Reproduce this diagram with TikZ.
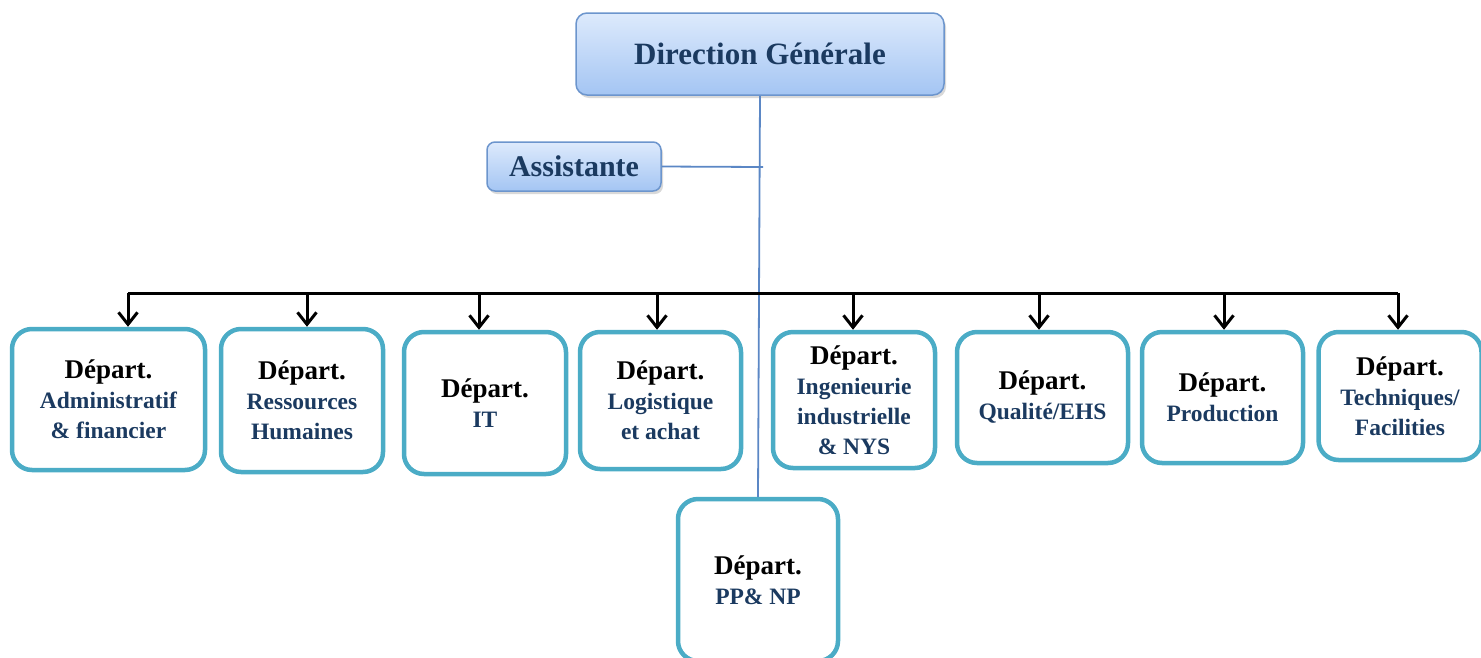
\documentclass[tikz,border=0pt]{standalone}
\usepackage{fontspec}
\setmainfont{Liberation Serif}
\usepackage{tikz}
\usetikzlibrary{arrows.meta, shadows}
\usepackage{xcolor}

\definecolor{boxline}{HTML}{4BACC6}
\definecolor{subnavy}{HTML}{1B3A60}
\definecolor{dgtop}{HTML}{DDEAFC}
\definecolor{dgbot}{HTML}{A4C5F3}
\definecolor{dgline}{HTML}{6C95CD}
\definecolor{linkblue}{HTML}{5B87C5}

\newcommand{\dtitle}{Départ.}
\newcommand{\dsub}[1]{{\color{subnavy}\fontsize{23.5}{30}\selectfont #1}}

\tikzset{
	headbox/.style = {draw=dgline, line width=1.5pt, rounded corners=11pt,
		top color=dgtop, bottom color=dgbot, text=subnavy,
		drop shadow={shadow xshift=2pt, shadow yshift=-3pt, opacity=0.3}},
	deptbox/.style = {draw=boxline, line width=4.5pt, rounded corners=20pt, fill=white,
		align=center, inner sep=0pt, font=\bfseries\fontsize{27}{30}\selectfont},
	arr/.style = {line width=3pt, -{Straight Barb[length=12pt, width=19pt]}}
}

\begin{document}
\begin{tikzpicture}[x=1pt, y=-1pt]
	\useasboundingbox (0,0) rectangle (1481,657);

	\node [headbox, minimum width=368pt, minimum height=82pt,
		font=\bfseries\fontsize{31}{34}\selectfont] (dg) at (760,54) {Direction Générale};
	\node [headbox, minimum width=174pt, minimum height=49pt, rounded corners=8pt,
		font=\bfseries\fontsize{30}{32}\selectfont] (ast) at (574,166.5) {Assistante};

	\node [deptbox, minimum width=193pt, minimum height=141pt] (adm) at (108.5,399.5)
		{\dtitle\\ \dsub{Administratif}\\ \dsub{\& financier}};
	\node [deptbox, minimum width=162pt, minimum height=143pt] (rh) at (302,400.5)
		{\dtitle\\ \dsub{Ressources}\\ \dsub{Humaines}};
	\node [deptbox, minimum width=162pt, minimum height=142pt] (it) at (485,403)
		{\dtitle\\ \dsub{IT}};
	\node [deptbox, minimum width=161pt, minimum height=137pt] (log) at (660.5,400.5)
		{\dtitle\\ \dsub{Logistique}\\ \dsub{et achat}};
	\node [deptbox, minimum width=162pt, minimum height=136pt] (ing) at (854,400)
		{\dtitle\\ \dsub{Ingenieurie}\\ \dsub{industrielle}\\ \dsub{\& NYS}};
	\node [deptbox, minimum width=171pt, minimum height=131pt] (qual) at (1042.5,397.5)
		{\dtitle\\ \dsub{Qualité/EHS}};
	\node [deptbox, minimum width=161pt, minimum height=131pt] (prod) at (1222.5,397.5)
		{\dtitle\\ \dsub{Production}};
	\node [deptbox, minimum width=163pt, minimum height=128pt] (tech) at (1400,396)
		{\dtitle\\ \dsub{Techniques/}\\ \dsub{Facilities}};
	\node [deptbox, minimum width=160pt, minimum height=162pt] (pp) at (758,580)
		{\dtitle\\ \dsub{PP\& NP}};

	% direction -> assistante / PP & NP
	\draw [linkblue, line width=1.8pt] (dg.south) -- (pp.north);
	\coordinate (astend) at (763,167);
	\draw [linkblue, line width=1.8pt] (ast.east) -- (astend);

	% bus
	\coordinate (busL) at (128,293);
	\coordinate (busR) at (1398,293);
	\draw [line width=3pt] (busL) -- (busR);
	\foreach \x/\n in {128/adm, 307/rh, 479/it, 657/log, 853/ing, 1039/qual, 1224/prod, 1398/tech}
		\draw [arr] (\x,293) -- (\x,0 |- \n.north);
\end{tikzpicture}
\end{document}
